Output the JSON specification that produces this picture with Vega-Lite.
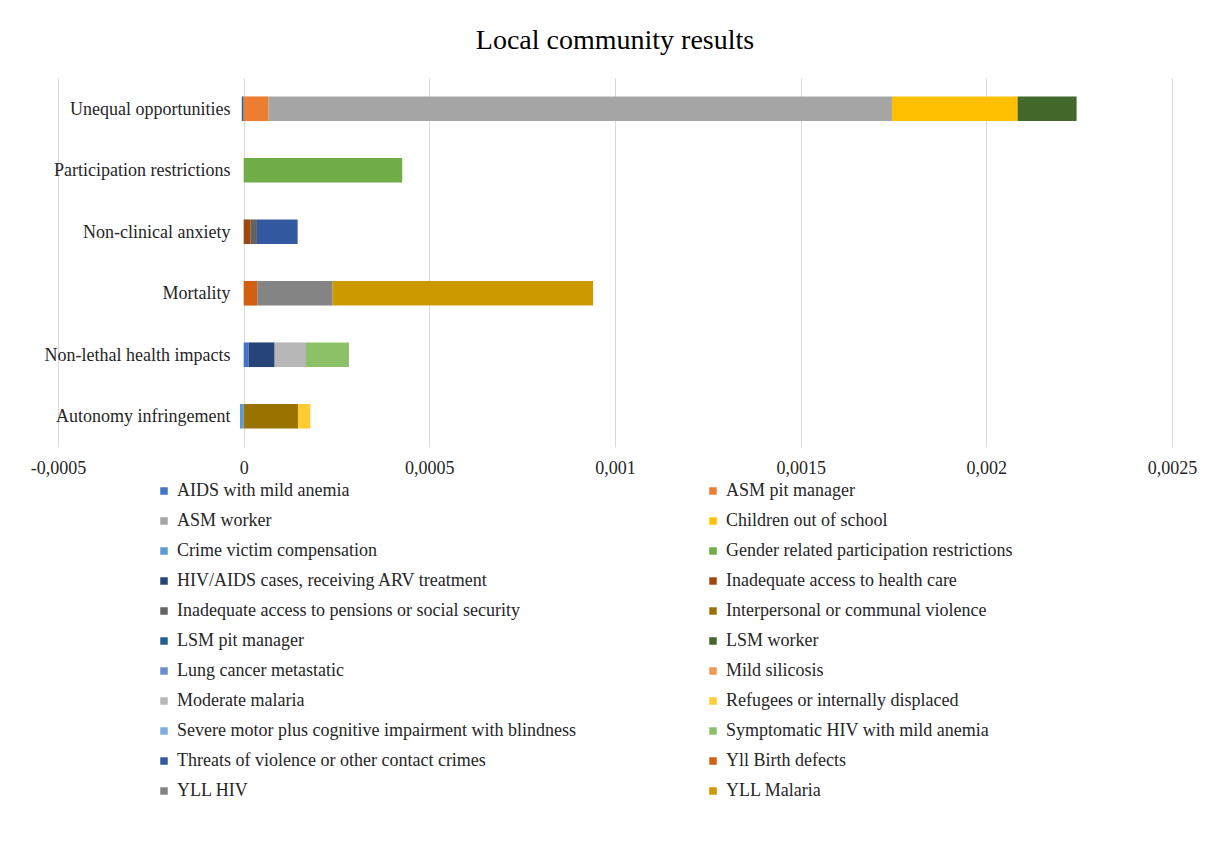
{
  "$schema": "https://vega.github.io/schema/vega-lite/v6.json",
  "autosize": "none",
  "width": 1114,
  "height": 369,
  "padding": {"left": 58, "top": 78, "right": 56, "bottom": 399},
  "background": "white",
  "title": {
    "text": "Local community results",
    "font": "Liberation Serif",
    "fontSize": 28,
    "fontWeight": "normal",
    "color": "#000000",
    "anchor": "middle",
    "baseline": "alphabetic",
    "offset": 1
  },
  "data": {
    "values": [
      {"impact": "Unequal opportunities", "s": "LSM pit manager", "v": -0.000005},
      {"impact": "Unequal opportunities", "s": "ASM pit manager", "v": 0.0000673},
      {"impact": "Unequal opportunities", "s": "ASM worker", "v": 0.0016786},
      {"impact": "Unequal opportunities", "s": "Children out of school", "v": 0.0003384},
      {"impact": "Unequal opportunities", "s": "LSM worker", "v": 0.0001588},
      {"impact": "Participation restrictions", "s": "Gender related participation restrictions", "v": 0.000427},
      {"impact": "Non-clinical anxiety", "s": "Inadequate access to health care", "v": 0.0000188},
      {"impact": "Non-clinical anxiety", "s": "Inadequate access to pensions or social security", "v": 0.000017},
      {"impact": "Non-clinical anxiety", "s": "Threats of violence or other contact crimes", "v": 0.0001095},
      {"impact": "Mortality", "s": "Yll Birth defects", "v": 0.0000366},
      {"impact": "Mortality", "s": "YLL HIV", "v": 0.000203},
      {"impact": "Mortality", "s": "YLL Malaria", "v": 0.0007015},
      {"impact": "Non-lethal health impacts", "s": "AIDS with mild anemia", "v": 0.0000135},
      {"impact": "Non-lethal health impacts", "s": "HIV/AIDS cases, receiving ARV treatment", "v": 0.00007},
      {"impact": "Non-lethal health impacts", "s": "Moderate malaria", "v": 0.0000843},
      {"impact": "Non-lethal health impacts", "s": "Symptomatic HIV with mild anemia", "v": 0.0001157},
      {"impact": "Autonomy infringement", "s": "Crime victim compensation", "v": -0.00001},
      {"impact": "Autonomy infringement", "s": "Interpersonal or communal violence", "v": 0.0001462},
      {"impact": "Autonomy infringement", "s": "Refugees or internally displaced", "v": 0.0000332}
    ]
  },
  "transform": [
    {"calculate": "indexof(['AIDS with mild anemia','ASM pit manager','ASM worker','Children out of school','Crime victim compensation','Gender related participation restrictions','HIV/AIDS cases, receiving ARV treatment','Inadequate access to health care','Inadequate access to pensions or social security','Interpersonal or communal violence','LSM pit manager','LSM worker','Lung cancer metastatic','Mild silicosis','Moderate malaria','Refugees or internally displaced','Severe motor plus cognitive impairment with blindness','Symptomatic HIV with mild anemia','Threats of violence or other contact crimes','Yll Birth defects','YLL HIV','YLL Malaria'], datum.s)", "as": "k"}
  ],
  "mark": {"type": "bar"},
  "encoding": {
    "y": {
      "field": "impact",
      "type": "nominal",
      "sort": ["Unequal opportunities", "Participation restrictions", "Non-clinical anxiety", "Mortality", "Non-lethal health impacts", "Autonomy infringement"],
      "scale": {"paddingInner": 0.6, "paddingOuter": 0.3},
      "axis": {
        "title": null,
        "domain": false,
        "ticks": false,
        "tickSize": 0,
        "grid": false,
        "offset": -186,
        "labelPadding": 14,
        "labelOffset": 1,
        "labelLimit": 400,
        "labelFont": "Liberation Serif",
        "labelFontSize": 18,
        "labelColor": "#262626"
      }
    },
    "x": {
      "field": "v",
      "type": "quantitative",
      "stack": "zero",
      "scale": {"domain": [-0.0005, 0.0025], "nice": false, "zero": false},
      "axis": {
        "title": null,
        "values": [-0.0005, 0, 0.0005, 0.001, 0.0015, 0.002, 0.0025],
        "labelExpr": "replace(toString(datum.value), '.', ',')",
        "domain": false,
        "ticks": false,
        "tickSize": 0,
        "grid": true,
        "gridColor": "#D9D9D9",
        "gridWidth": 1,
        "labelPadding": 12,
        "labelFont": "Liberation Serif",
        "labelFontSize": 18,
        "labelColor": "#262626",
        "labelFlush": false
      }
    },
    "color": {
      "field": "s",
      "type": "nominal",
      "scale": {
        "domain": ["AIDS with mild anemia", "ASM pit manager", "ASM worker", "Children out of school", "Crime victim compensation", "Gender related participation restrictions", "HIV/AIDS cases, receiving ARV treatment", "Inadequate access to health care", "Inadequate access to pensions or social security", "Interpersonal or communal violence", "LSM pit manager", "LSM worker", "Lung cancer metastatic", "Mild silicosis", "Moderate malaria", "Refugees or internally displaced", "Severe motor plus cognitive impairment with blindness", "Symptomatic HIV with mild anemia", "Threats of violence or other contact crimes", "Yll Birth defects", "YLL HIV", "YLL Malaria"],
        "range": ["#4472C4", "#ED7D31", "#A5A5A5", "#FFC000", "#5B9BD5", "#70AD47", "#264478", "#9E480E", "#636363", "#997300", "#255E91", "#43682B", "#698ED0", "#F1975A", "#B7B7B7", "#FFCD33", "#7CAFDD", "#8CC168", "#335AA1", "#D26012", "#848484", "#CC9A00"]
      },
      "legend": {
        "title": null,
        "orient": "none",
        "direction": "horizontal",
        "legendX": 97,
        "legendY": 404,
        "columns": 2,
        "columnPadding": 128,
        "rowPadding": 12,
        "padding": 0,
        "symbolType": "square",
        "symbolSize": 56,
        "symbolStrokeWidth": 0,
        "labelOffset": 4,
        "labelFont": "Liberation Serif",
        "labelFontSize": 18,
        "labelColor": "#262626",
        "labelLimit": 700
      }
    },
    "order": {"field": "k", "type": "quantitative"}
  },
  "config": {
    "view": {"stroke": null}
  }
}
